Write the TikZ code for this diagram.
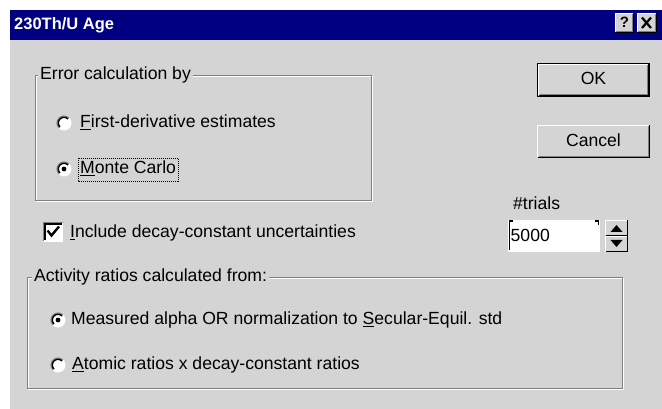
\documentclass[tikz,border=0pt]{standalone}
\usepackage{fontspec}
\setmainfont{Liberation Sans}
\definecolor{dlg}{RGB}{212,212,212}
\definecolor{titlebar}{RGB}{0,0,128}
\definecolor{dkgray}{RGB}{128,128,128}
\tikzset{
  txt/.style={anchor=west,inner sep=0pt,text height=12.8pt,text depth=3.6pt,font=\fontsize{17.6}{20}\selectfont},
  ctxt/.style={inner sep=0pt,text height=12.8pt,text depth=3.6pt,font=\fontsize{17.6}{20}\selectfont},
  glabel/.style={txt,fill=dlg,inner xsep=2pt},
  radio/.pic={
    \fill[white] (0,0) circle[radius=7.5pt];
    \draw[dkgray,line width=1.2pt] (0,0) ++(45:7pt) arc[start angle=45,end angle=225,radius=7pt];
    \draw[black,line width=1.4pt] (0,0) ++(45:5.7pt) arc[start angle=45,end angle=225,radius=5.7pt];
  },
  radiosel/.pic={
    \fill[white] (0,0) circle[radius=7.5pt];
    \draw[dkgray,line width=1.2pt] (0,0) ++(45:7pt) arc[start angle=45,end angle=225,radius=7pt];
    \draw[black,line width=1.4pt] (0,0) ++(45:5.7pt) arc[start angle=45,end angle=225,radius=5.7pt];
    \fill[black] (0,0) circle[radius=2.4pt];
  },
  pix/.style={line width=1pt}
}
\begin{document}
\begin{tikzpicture}[x=1pt,y=-1pt]
\useasboundingbox (0,0) rectangle (662,409);
\fill[white] (0,0) rectangle (662,409);
\fill[dlg] (10,40) rectangle (662,409);
\fill[titlebar] (10,10) rectangle (662,40);
\node[anchor=west,inner sep=0pt,text=white,font=\bfseries\fontsize{16.5}{20}\selectfont] (title) at (14,25.5) {230Th/U Age};
% help button
\fill[dlg] (615,13) rectangle (634,33);
\draw[pix,white] (615.5,32.5) -- (615.5,13.5) -- (633.5,13.5);
\draw[pix,black] (615,32.5) -- (633.5,32.5) -- (633.5,13);
\draw[pix,dkgray] (616,31.5) -- (632.5,31.5) -- (632.5,14);
\node[inner sep=0pt,font=\bfseries\fontsize{15}{15}\selectfont] (help) at (624.5,22.5) {?};
% close button
\fill[dlg] (637,13) rectangle (657,33);
\draw[pix,white] (637.5,32.5) -- (637.5,13.5) -- (656.5,13.5);
\draw[pix,black] (637,32.5) -- (656.5,32.5) -- (656.5,13);
\draw[pix,dkgray] (638,31.5) -- (655.5,31.5) -- (655.5,14);
\coordinate (xa) at (642,17.5);
\coordinate (xb) at (651,28);
\coordinate (xc) at (651,17.5);
\coordinate (xd) at (642,28);
\draw[line width=2.2pt] (xa) -- (xb);
\draw[line width=2.2pt] (xc) -- (xd);
% group box 1
\draw[pix,white] (36.5,76.5) rectangle (372.5,201.5);
\draw[pix,dkgray] (35.5,75.5) rectangle (371.5,200.5);
\node[glabel] (g1) at (38,75) {Error calculation by};
\pic at (64,123) {radio};
\node[txt] (opt1) at (80,123) {\underline{F}irst-derivative estimates};
\pic at (64,169) {radiosel};
\node[txt] (opt2) at (80,169) {\underline{M}onte Carlo};
\draw[pix,densely dotted] (78,158.5) rectangle (178,181.5);
% checkbox
\fill[white] (43,222) rectangle (63,242);
\draw[pix,dkgray] (43.5,241.5) -- (43.5,222.5) -- (62.5,222.5);
\draw[line width=1.5pt,black] (45,240.5) -- (45,224) -- (61.5,224);
\draw[line width=2.4pt] (47.5,230.5) -- (51.5,235.5) -- (59,226.5);
\node[txt] (chk) at (70,233) {\underline{I}nclude decay-constant uncertainties};
% OK button
\fill[dlg] (537,63) rectangle (650,97);
\draw[pix,black] (537.5,63.5) rectangle (649.5,96.5);
\draw[pix,white] (538.5,95.5) -- (538.5,64.5) -- (648.5,64.5);
\draw[pix,black] (538.5,95.5) -- (648.5,95.5) -- (648.5,64.5);
\draw[pix,dkgray] (539.5,94.5) -- (647.5,94.5) -- (647.5,65.5);
\node[ctxt] (ok) at (593.5,80) {OK};
% Cancel button
\fill[dlg] (537,125) rectangle (650,158);
\draw[pix,white] (537.5,157.5) -- (537.5,125.5) -- (649.5,125.5);
\draw[pix,black] (537.5,157.5) -- (649.5,157.5) -- (649.5,125.5);
\draw[pix,dkgray] (538.5,156.5) -- (648.5,156.5) -- (648.5,126.5);
\node[ctxt] (cancel) at (593.5,141.5) {Cancel};
% trials
\node[txt] (trl) at (513,205) {\#trials};
\fill[white] (508,220) rectangle (600,252);
\draw[line width=1.5pt] (513,221) -- (509.5,221) -- (509.5,250);
\draw[line width=1.5pt] (595,221) -- (598.5,221) -- (598.5,225);
\node[txt] (val) at (510.5,236.5) {5000};
% spinner
\fill[dlg] (605,220) rectangle (628,252);
\draw[pix,white] (605.5,235.5) -- (605.5,220.5) -- (627.5,220.5);
\draw[pix,black] (605.5,235.5) -- (627.5,235.5) -- (627.5,220.5);
\draw[pix,white] (605.5,251.5) -- (605.5,236.5) -- (627.5,236.5);
\draw[pix,black] (605.5,251.5) -- (627.5,251.5) -- (627.5,236.5);
\fill[black] (610.5,232) -- (622.5,232) -- (616.5,225) -- cycle;
\fill[black] (610.5,240) -- (622.5,240) -- (616.5,247) -- cycle;
% group box 2
\draw[pix,white] (28.5,278.5) rectangle (623.5,389.5);
\draw[pix,dkgray] (27.5,277.5) rectangle (622.5,388.5);
\node[glabel] (g2) at (32,277) {Activity ratios calculated from:};
\pic at (58,320) {radiosel};
\node[txt] (m1) at (71,320) {Measured alpha OR normalization to \underline{S}ecular-Equil. std};
\pic at (58,365) {radio};
\node[txt] (m2) at (72,365) {\underline{A}tomic ratios x decay-constant ratios};
\end{tikzpicture}
\end{document}
